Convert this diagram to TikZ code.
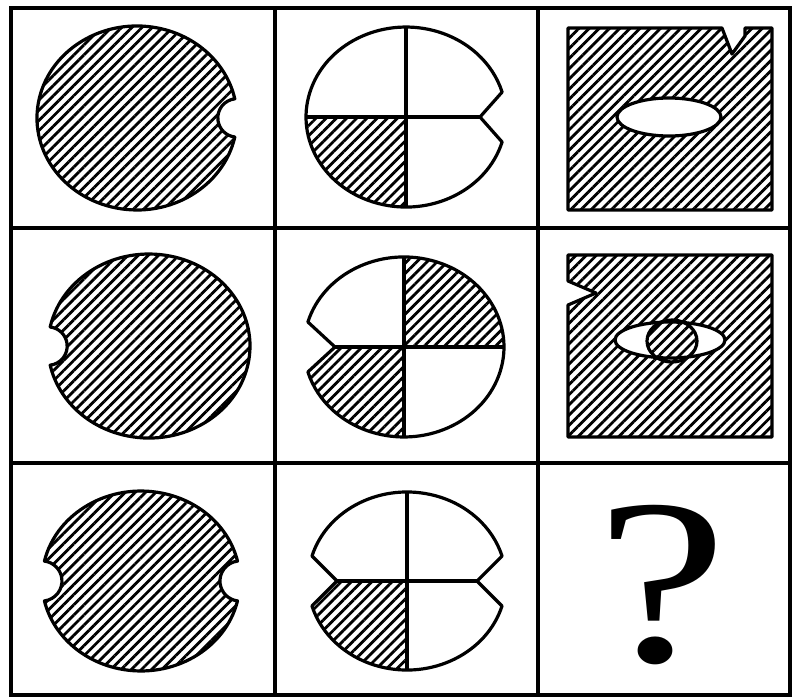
\documentclass[tikz,border=0pt]{standalone}
\usepackage{fontspec}
\usepackage{tikz}
\usetikzlibrary{patterns.meta}
\newfontfamily\qfont{Liberation Serif}

\tikzset{
  gridline/.style={line width=3.6pt},
  outline/.style={line width=3.2pt, line join=round},
  hatch/.style={pattern={Lines[angle=45,distance=7.2pt,line width=2.8pt]}},
}

\begin{document}
\begin{tikzpicture}[x=1pt, y=-1pt]
        \useasboundingbox (0,0) rectangle (795,699);
        % raster
        \draw[gridline] (11,8) rectangle (790,695);
        \draw[gridline] (275,8) -- (275,695) (538,8) -- (538,695);
        \draw[gridline] (11,228) -- (790,228) (11,463) -- (790,463);
        % prima colonna
        \draw[outline, hatch] (234.8,137.1) arc[start angle=12, end angle=348, x radius=100, y radius=92]
            arc[start angle=263.4, end angle=96.6, radius=19.2] -- cycle;
        \draw[outline, hatch] (50.2,326.9) arc[start angle=192, end angle=528, x radius=101, y radius=92]
            arc[start angle=83.4, end angle=-83.4, radius=19.2] -- cycle;
        \draw[outline, hatch] (237.5,600.9) arc[start angle=12.8, end angle=167.2, x radius=99, y radius=90]
            arc[start angle=82.8, end angle=-82.8, radius=20.06]
            arc[start angle=192.8, end angle=347.2, x radius=99, y radius=90]
            arc[start angle=262.8, end angle=97.2, radius=20.06] -- cycle;
        % seconda colonna
        \draw[outline, path picture={\fill[hatch] (406,117) rectangle (290,220);}]
            (502.1,142) arc[start angle=16.1, end angle=343.9, x radius=100, y radius=90] -- (480,117) -- cycle;
        \draw[outline] (306,117) -- (480,117) (406,27) -- (406,207);
        \draw[outline, path picture={
            \fill[hatch] (404,347) rectangle (520,240);
            \fill[hatch] (404,347) rectangle (290,450);}]
            (307.9,322) arc[start angle=196.1, end angle=523.9, x radius=100, y radius=90] -- (335,347) -- cycle;
        \draw[outline] (335,347) -- (505,347) (404,257) -- (404,437);
        \draw[outline, path picture={\fill[hatch] (407,581) rectangle (290,680);}]
            (502,606) arc[start angle=16.3, end angle=163.7, x radius=99, y radius=89] -- (337,581)
            -- (312,556) arc[start angle=196.3, end angle=343.7, x radius=99, y radius=89] -- (477,581) -- cycle;
        \draw[outline] (337,581) -- (477,581) (407,492) -- (407,670);
        % terza colonna
        \draw[outline, hatch] (568,28) -- (722,28) -- (732,54) -- (745,36) -- (745,28) -- (772,28)
            -- (772,210) -- (568,210) -- cycle;
        \draw[outline, fill=white] (669,117) ellipse[x radius=52, y radius=19];
        \draw[outline, hatch] (568,255) -- (772,255) -- (772,437) -- (568,437) -- (568,305)
            -- (596,293) -- (568,281) -- cycle;
        \draw[outline, fill=white] (670,340) ellipse[x radius=55, y radius=18];
        \draw[outline, hatch] (672,341) ellipse[x radius=25, y radius=21];
        \node[inner sep=0pt, anchor=base, xscale=1.25] (qmark) at (662,661)
            {\qfont\fontsize{236}{236}\selectfont ?};
    \end{tikzpicture}
\end{document}
